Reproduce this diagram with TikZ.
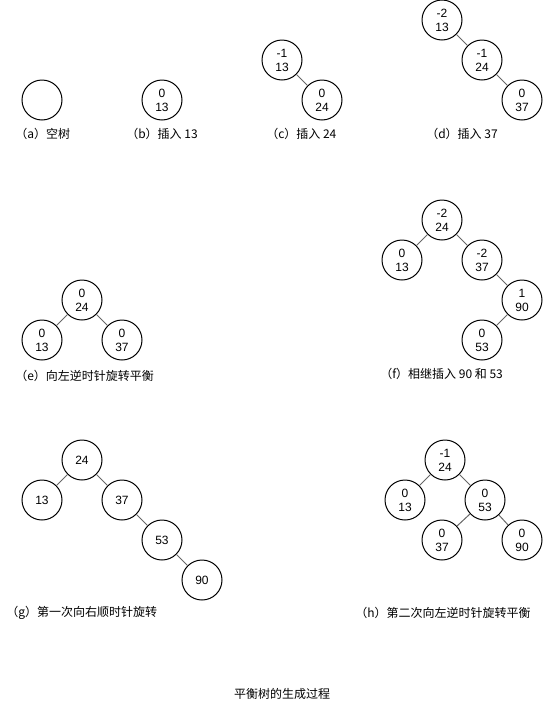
\documentclass[tikz,border=0pt]{standalone}
\usepackage{fontspec}
\setmainfont{Liberation Sans}
\newfontfamily\cjk{Noto Sans CJK SC}

\begin{document}
\begin{tikzpicture}[x=0.75pt,y=0.75pt,yscale=-1,xscale=1,
	avl/.style={circle,draw,line width=0.75pt,minimum size=30pt,inner sep=0pt,align=center,font=\fontsize{9}{10.5}\selectfont},
	link/.style={draw=black!60,line width=0.75pt},
	caption/.style={anchor=west,inner sep=0pt,font=\fontsize{9}{11}\selectfont\cjk}]
		\useasboundingbox (0,0) rectangle (543,711);
		% (a)
		\node [avl] (a1) at (42,100) {};
		\node [caption] (la) at (15,134) {（a）空树};
		% (b)
		\node [avl] (b1) at (162,100) {0\\13};
		\node [caption] (lb) at (126,134) {（b）插入 13};
		% (c)
		\node [avl] (c1) at (282,60) {-1\\13};
		\node [avl] (c2) at (322,100) {0\\24};
		\draw [link] (c1) -- (c2);
		\node [caption] (lc) at (266,134) {（c）插入 24};
		% (d)
		\node [avl] (d1) at (442,20) {-2\\13};
		\node [avl] (d2) at (482,60) {-1\\24};
		\node [avl] (d3) at (522,100) {0\\37};
		\draw [link] (d1) -- (d2);
		\draw [link] (d2) -- (d3);
		\node [caption] (ld) at (426,134) {（d）插入 37};
		% (e)
		\node [avl] (e1) at (82,300) {0\\24};
		\node [avl] (e2) at (42,340) {0\\13};
		\node [avl] (e3) at (122,340) {0\\37};
		\draw [link] (e1) -- (e2);
		\draw [link] (e1) -- (e3);
		\node [caption] (le) at (15,376) {（e）向左逆时针旋转平衡};
		% (f)
		\node [avl] (f1) at (442,220) {-2\\24};
		\node [avl] (f2) at (402,260) {0\\13};
		\node [avl] (f3) at (482,260) {-2\\37};
		\node [avl] (f4) at (522,300) {1\\90};
		\node [avl] (f5) at (482,340) {0\\53};
		\draw [link] (f1) -- (f2);
		\draw [link] (f1) -- (f3);
		\draw [link] (f3) -- (f4);
		\draw [link] (f4) -- (f5);
		\node [caption] (lf) at (380,374) {（f）相继插入 90 和 53};
		% (g)
		\node [avl] (g1) at (82,460) {24};
		\node [avl] (g2) at (42,500) {13};
		\node [avl] (g3) at (122,500) {37};
		\node [avl] (g4) at (162,540) {53};
		\node [avl] (g5) at (202,580) {90};
		\draw [link] (g1) -- (g2);
		\draw [link] (g1) -- (g3);
		\draw [link] (g3) -- (g4);
		\draw [link] (g4) -- (g5);
		\node [caption] (lg) at (6,613) {（g）第一次向右顺时针旋转};
		% (h)
		\node [avl] (h1) at (445,460) {-1\\24};
		\node [avl] (h2) at (405,500) {0\\13};
		\node [avl] (h3) at (485,500) {0\\53};
		\node [avl] (h4) at (442,540) {0\\37};
		\node [avl] (h5) at (522,540) {0\\90};
		\draw [link] (h1) -- (h2);
		\draw [link] (h1) -- (h3);
		\draw [link] (h3) -- (h4);
		\draw [link] (h3) -- (h5);
		\node [caption] (lh) at (355,613) {（h）第二次向左逆时针旋转平衡};
		% title
		\node [caption,anchor=center] (title) at (282,694) {平衡树的生成过程};
\end{tikzpicture}
\end{document}
